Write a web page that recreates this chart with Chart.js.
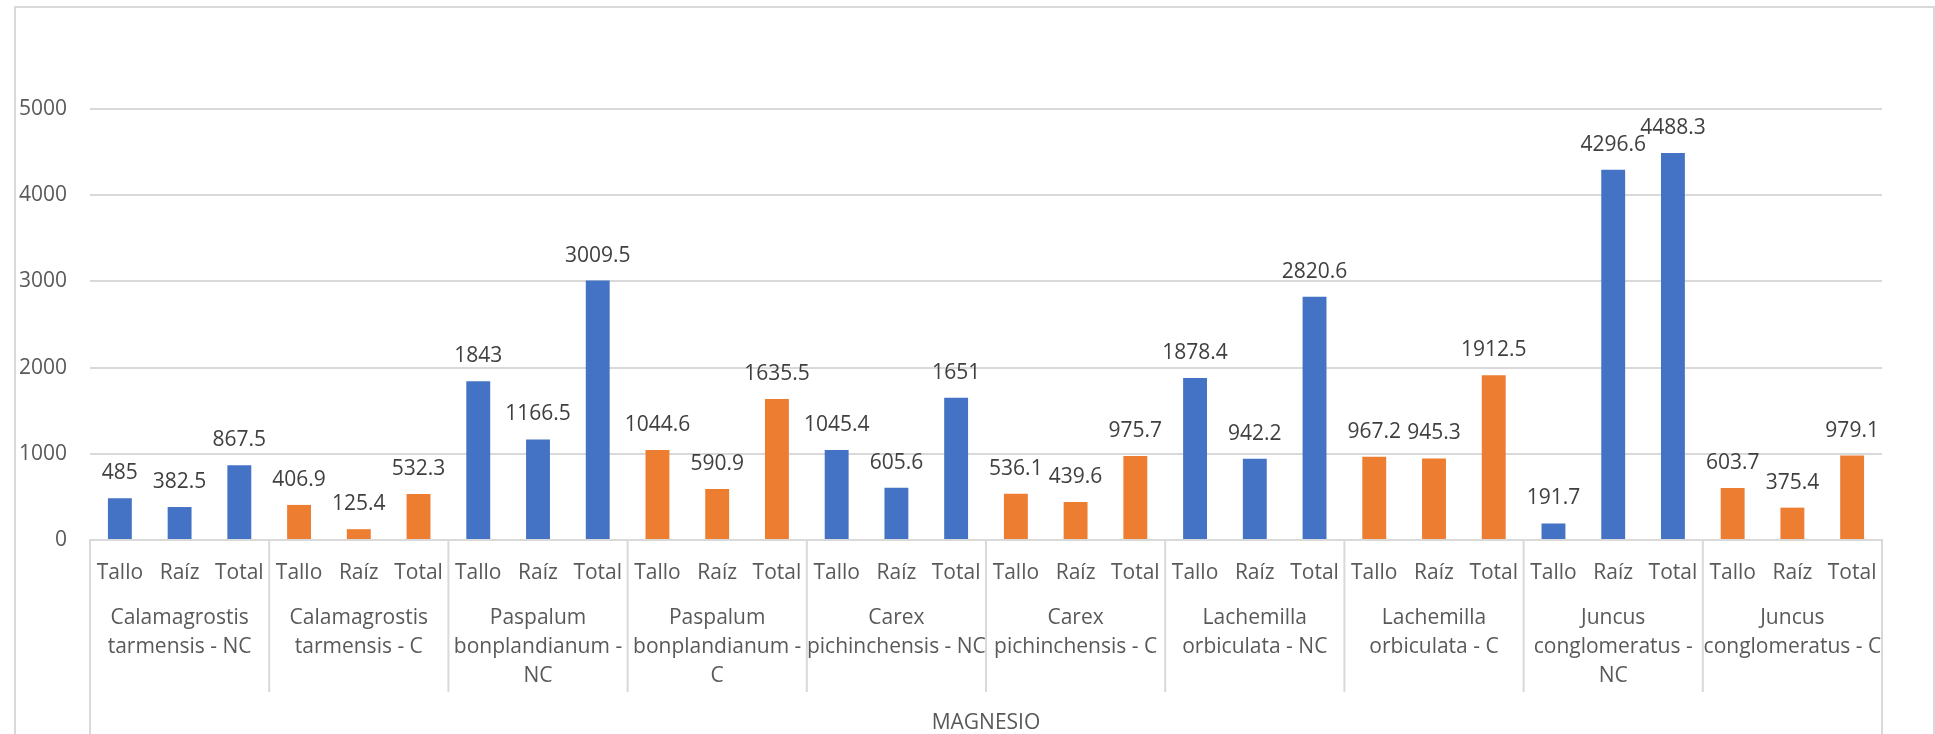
<!DOCTYPE html>
<html>
<head>
<meta charset="utf-8">
<script src="https://cdn.jsdelivr.net/npm/chart.js@4/dist/chart.umd.min.js"></script>
<style>
  html, body { margin: 0; padding: 0; background: #fff; }
  #wrap { width: 1935px; height: 734px; position: relative; }
</style>
</head>
<body>
<div id="wrap"><canvas id="chart"></canvas></div>
<script>
// category levels
const parts = ['Tallo', 'Raíz', 'Total'];
const groupLines = [
  ['Calamagrostis', 'tarmensis - NC'],
  ['Calamagrostis', 'tarmensis - C'],
  ['Paspalum', 'bonplandianum -', 'NC'],
  ['Paspalum', 'bonplandianum -', 'C'],
  ['Carex', 'pichinchensis - NC'],
  ['Carex', 'pichinchensis - C'],
  ['Lachemilla', 'orbiculata - NC'],
  ['Lachemilla', 'orbiculata - C'],
  ['Juncus', 'conglomeratus -', 'NC'],
  ['Juncus', 'conglomeratus - C']
];
const treatment = ['NC', 'C', 'NC', 'C', 'NC', 'C', 'NC', 'C', 'NC', 'C'];
const axisTitle = 'MAGNESIO';

// values per group
const tallo = [485, 406.9, 1843, 1044.6, 1045.4, 536.1, 1878.4, 967.2, 191.7, 603.7];
const raiz  = [382.5, 125.4, 1166.5, 590.9, 605.6, 439.6, 942.2, 945.3, 4296.6, 375.4];
const total = [867.5, 532.3, 3009.5, 1635.5, 1651, 975.7, 2820.6, 1912.5, 4488.3, 979.1];

const yTicks = [0, 1000, 2000, 3000, 4000, 5000];

const BLUE = '#4472C4';
const ORANGE = '#ED7D31';
const GRID = '#d9d9d9';
const TXT = '#595959';
const FONT = '"Open Sans", "Noto Sans", sans-serif';

// flatten groups into 30 bars
const labels = [];
const values = [];
const colors = [];
groupLines.forEach((g, i) => {
  const v = [tallo[i], raiz[i], total[i]];
  parts.forEach((p, j) => {
    labels.push(p);
    values.push(v[j]);
    colors.push(treatment[i] === 'NC' ? BLUE : ORANGE);
  });
});

const frame = {
  id: 'frame',
  beforeDraw(chart) {
    const ctx = chart.ctx;
    ctx.save();
    ctx.strokeStyle = GRID;
    ctx.lineWidth = 2;
    ctx.beginPath();
    ctx.moveTo(15, 734);
    ctx.lineTo(15, 7);
    ctx.lineTo(1934, 7);
    ctx.lineTo(1934, 734);
    ctx.stroke();
    ctx.restore();
  }
};

const groupAxis = {
  id: 'groupAxis',
  afterDraw(chart) {
    const ctx = chart.ctx;
    const x = chart.scales.x;
    const area = chart.chartArea;
    const half = (x.getPixelForValue(1) - x.getPixelForValue(0)) / 2;
    ctx.save();
    ctx.strokeStyle = GRID;
    ctx.lineWidth = 2;
    // separators between groups
    for (let i = 0; i <= groupLines.length; i++) {
      const px = i < groupLines.length
        ? x.getPixelForValue(i * 3) - half
        : x.getPixelForValue(i * 3 - 1) + half;
      const outer = i === 0 || i === groupLines.length;
      ctx.beginPath();
      ctx.moveTo(px, area.bottom);
      ctx.lineTo(px, outer ? 734 : 692);
      ctx.stroke();
    }
    ctx.fillStyle = TXT;
    ctx.font = '21px ' + FONT;
    ctx.textAlign = 'center';
    ctx.textBaseline = 'middle';
    groupLines.forEach((lines, i) => {
      const cx = x.getPixelForValue(i * 3 + 1);
      lines.forEach((t, k) => ctx.fillText(t, cx, 618 + k * 29));
    });
    ctx.fillText(axisTitle, (area.left + area.right) / 2, 723);
    ctx.restore();
  }
};

const valueLabels = {
  id: 'valueLabels',
  afterDatasetsDraw(chart) {
    const ctx = chart.ctx;
    const meta = chart.getDatasetMeta(0);
    ctx.save();
    ctx.fillStyle = '#404040';
    ctx.font = '21px ' + FONT;
    ctx.textAlign = 'center';
    ctx.textBaseline = 'middle';
    meta.data.forEach((bar, i) => {
      ctx.fillText(String(values[i]), bar.x, bar.y - 25);
    });
    ctx.restore();
  }
};

new Chart(document.getElementById('chart'), {
  type: 'bar',
  data: {
    labels: labels,
    datasets: [{
      label: axisTitle,
      data: values,
      backgroundColor: colors,
      borderWidth: 0,
      categoryPercentage: 1,
      barPercentage: 0.4
    }]
  },
  options: {
    responsive: true,
    maintainAspectRatio: false,
    animation: false,
    layout: { padding: { left: 0, right: 53, top: 109, bottom: 0 } },
    plugins: {
      legend: { display: false },
      tooltip: { enabled: false }
    },
    scales: {
      x: {
        grid: { display: false },
        border: { color: GRID, width: 2 },
        ticks: {
          color: TXT,
          font: { family: FONT, size: 21 },
          padding: 12,
          maxRotation: 0,
          autoSkip: false
        },
        afterFit(scale) { scale.height = 194; }
      },
      y: {
        min: 0,
        max: 5000,
        afterBuildTicks(scale) { scale.ticks = yTicks.map(v => ({ value: v })); },
        grid: { color: GRID, lineWidth: 2, drawTicks: false },
        border: { display: false },
        ticks: {
          color: TXT,
          font: { family: FONT, size: 21 },
          padding: 23,
          callback: v => String(v)
        },
        afterFit(scale) { scale.width = 90; }
      }
    }
  },
  plugins: [frame, groupAxis, valueLabels]
});
</script>
</body>
</html>
